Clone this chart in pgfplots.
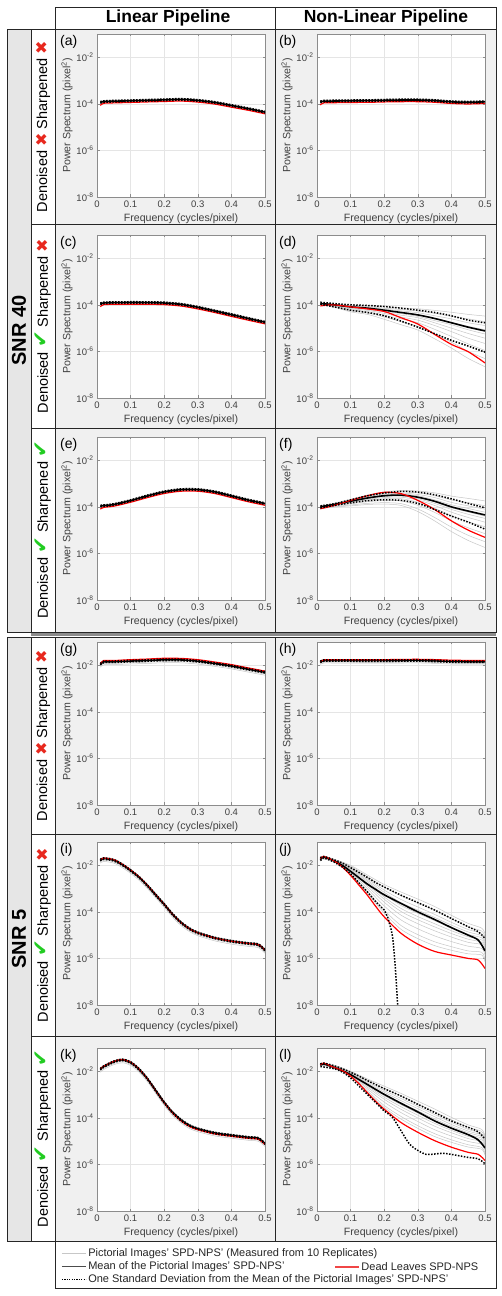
\documentclass[border=0pt]{standalone}
\usepackage{fontspec}
\setmainfont{Liberation Sans}
\newfontfamily\symfont{DejaVu Sans}
\usepackage{pgfplots}
\pgfplotsset{compat=1.18}
\usepackage{pgfplotstable}
\definecolor{cellbg}{HTML}{F0F0F0}
\definecolor{snrbg}{HTML}{E6E6E6}
\definecolor{xred}{HTML}{E8281E}
\definecolor{cgreen}{HTML}{22CC22}
\definecolor{legred}{HTML}{F04646}
\newcommand{\xm}{{\symfont\fontsize{16}{16}\selectfont\color{xred}✖}}
\newcommand{\cm}{{\symfont\fontsize{20}{16}\selectfont\color{cgreen}✔}}

\pgfplotstableread{
x m hi lo r g1 g2
0.01 1.15e-4 1.24e-4 1.07e-4 8.6e-5 1.29e-4 1.04e-4
0.02 1.25e-4 1.35e-4 1.16e-4 1.06e-4 1.4e-4 1.13e-4
0.05 1.30e-4 1.40e-4 1.21e-4 1.1e-4 1.46e-4 1.17e-4
0.1 1.35e-4 1.46e-4 1.26e-4 1.15e-4 1.51e-4 1.22e-4
0.15 1.42e-4 1.53e-4 1.32e-4 1.21e-4 1.59e-4 1.28e-4
0.2 1.48e-4 1.60e-4 1.38e-4 1.26e-4 1.66e-4 1.33e-4
0.25 1.55e-4 1.67e-4 1.44e-4 1.32e-4 1.74e-4 1.4e-4
0.3 1.40e-4 1.51e-4 1.30e-4 1.19e-4 1.57e-4 1.26e-4
0.35 1.15e-4 1.24e-4 1.07e-4 9.8e-5 1.29e-4 1.04e-4
0.4 8.5e-5 9.2e-5 7.9e-5 7.2e-5 9.5e-5 7.7e-5
0.45 6.2e-5 6.7e-5 5.8e-5 5.3e-5 6.9e-5 5.6e-5
0.5 4.4e-5 4.75e-5 4.1e-5 3.75e-5 4.9e-5 4.0e-5
}\tA
\pgfplotstableread{
x m hi lo r g1 g2
0.01 1.2e-4 1.3e-4 1.12e-4 9.0e-5 1.34e-4 1.08e-4
0.02 1.3e-4 1.4e-4 1.21e-4 1.1e-4 1.46e-4 1.17e-4
0.05 1.32e-4 1.43e-4 1.23e-4 1.12e-4 1.48e-4 1.19e-4
0.1 1.35e-4 1.46e-4 1.26e-4 1.15e-4 1.51e-4 1.22e-4
0.15 1.37e-4 1.48e-4 1.27e-4 1.16e-4 1.53e-4 1.23e-4
0.2 1.42e-4 1.53e-4 1.32e-4 1.21e-4 1.59e-4 1.28e-4
0.25 1.46e-4 1.58e-4 1.36e-4 1.24e-4 1.64e-4 1.31e-4
0.3 1.46e-4 1.58e-4 1.36e-4 1.24e-4 1.64e-4 1.31e-4
0.35 1.38e-4 1.49e-4 1.28e-4 1.17e-4 1.55e-4 1.24e-4
0.4 1.22e-4 1.32e-4 1.13e-4 1.04e-4 1.37e-4 1.1e-4
0.45 1.17e-4 1.26e-4 1.09e-4 9.9e-5 1.31e-4 1.05e-4
0.5 1.22e-4 1.32e-4 1.13e-4 1.04e-4 1.37e-4 1.1e-4
}\tB
\pgfplotstableread{
x m hi lo r g1 g2
0.01 1.1e-4 1.19e-4 1.02e-4 8.3e-5 1.23e-4 9.9e-5
0.02 1.2e-4 1.3e-4 1.12e-4 1.02e-4 1.34e-4 1.08e-4
0.05 1.24e-4 1.34e-4 1.15e-4 1.05e-4 1.39e-4 1.12e-4
0.1 1.26e-4 1.36e-4 1.17e-4 1.07e-4 1.41e-4 1.13e-4
0.15 1.25e-4 1.35e-4 1.16e-4 1.06e-4 1.4e-4 1.13e-4
0.2 1.2e-4 1.3e-4 1.12e-4 1.02e-4 1.34e-4 1.08e-4
0.25 1.05e-4 1.13e-4 9.8e-5 8.9e-5 1.18e-4 9.5e-5
0.3 7.9e-5 8.5e-5 7.3e-5 6.7e-5 8.8e-5 7.1e-5
0.35 5.5e-5 5.9e-5 5.1e-5 4.7e-5 6.2e-5 5.0e-5
0.4 3.8e-5 4.1e-5 3.5e-5 3.2e-5 4.3e-5 3.4e-5
0.45 2.6e-5 2.8e-5 2.4e-5 2.2e-5 2.9e-5 2.3e-5
0.5 1.8e-5 1.94e-5 1.67e-5 1.53e-5 2.0e-5 1.6e-5
}\tC
\pgfplotstableread{
x m hi lo r g1 g2
0.01 1.07e-4 1.16e-4 9.9e-5 8.0e-5 1.2e-4 9.6e-5
0.02 1.12e-4 1.21e-4 1.04e-4 9.5e-5 1.25e-4 1.0e-4
0.05 1.26e-4 1.36e-4 1.17e-4 1.07e-4 1.41e-4 1.13e-4
0.1 1.86e-4 2.0e-4 1.73e-4 1.58e-4 2.08e-4 1.67e-4
0.15 2.95e-4 3.2e-4 2.74e-4 2.5e-4 3.3e-4 2.65e-4
0.2 4.4e-4 4.75e-4 4.1e-4 3.75e-4 4.9e-4 4.0e-4
0.25 5.5e-4 5.9e-4 5.1e-4 4.7e-4 6.2e-4 4.95e-4
0.3 5.5e-4 5.9e-4 5.1e-4 4.7e-4 6.2e-4 4.95e-4
0.35 4.4e-4 4.75e-4 4.1e-4 3.75e-4 4.9e-4 4.0e-4
0.4 2.95e-4 3.2e-4 2.74e-4 2.5e-4 3.3e-4 2.65e-4
0.45 1.95e-4 2.1e-4 1.81e-4 1.66e-4 2.2e-4 1.75e-4
0.5 1.38e-4 1.49e-4 1.28e-4 1.17e-4 1.55e-4 1.24e-4
}\tE
\pgfplotstableread{
x m hi lo r g1 g2 g3 g4 g5 g6 g7 g8 g9 g10
0.01 1.15e-4 1.3e-4 1.07e-4 9.0e-5 1.2e-4 1.16e-4 1.14e-4 1.12e-4 1.1e-4 1.08e-4 1.12e-4 1.05e-4 1.1e-4 1.02e-4
0.05 1.0e-4 1.14e-4 8.2e-5 1.0e-4 1.05e-4 1.02e-4 1.0e-4 9.8e-5 9.5e-5 9.3e-5 9.1e-5 8.9e-5 8.5e-5 8.1e-5
0.1 8.2e-5 1.0e-4 5.9e-5 8.2e-5 9.5e-5 8.9e-5 8.5e-5 8.1e-5 7.6e-5 7.2e-5 6.8e-5 6.2e-5 5.6e-5 5.0e-5
0.15 7.2e-5 9.4e-5 4.7e-5 6.7e-5 9.1e-5 8.3e-5 7.8e-5 7.2e-5 6.8e-5 6.3e-5 5.8e-5 5.1e-5 4.5e-5 3.9e-5
0.2 5.9e-5 8.5e-5 3.4e-5 5.2e-5 8.3e-5 7.2e-5 6.6e-5 5.9e-5 5.4e-5 4.9e-5 4.3e-5 3.6e-5 3.0e-5 2.4e-5
0.25 4.7e-5 7.2e-5 2.0e-5 2.8e-5 7.4e-5 6.3e-5 5.5e-5 4.8e-5 4.2e-5 3.6e-5 3.0e-5 2.5e-5 1.9e-5 1.4e-5
0.3 3.7e-5 5.9e-5 1.1e-5 1.5e-5 6.8e-5 5.4e-5 4.6e-5 3.8e-5 3.2e-5 2.8e-5 2.2e-5 1.7e-5 1.2e-5 8.3e-6
0.35 2.6e-5 4.7e-5 5.8e-6 5.4e-6 5.8e-5 4.3e-5 3.4e-5 2.7e-5 2.1e-5 1.7e-5 1.3e-5 8.9e-6 5.6e-6 3.5e-6
0.4 1.7e-5 3.4e-5 3.0e-6 2.0e-6 4.8e-5 3.2e-5 2.5e-5 1.8e-5 1.4e-5 1.0e-5 7.1e-6 4.4e-6 2.5e-6 1.4e-6
0.45 1.1e-5 2.2e-5 1.7e-6 9.7e-7 3.9e-5 2.5e-5 1.7e-5 1.2e-5 8.5e-6 5.9e-6 3.7e-6 2.1e-6 1.0e-6 5.0e-7
0.5 7.6e-6 1.7e-5 9.3e-7 3.2e-7 3.3e-5 1.9e-5 1.3e-5 8.5e-6 5.6e-6 3.7e-6 2.2e-6 1.1e-6 4.9e-7 2.2e-7
}\tD
\pgfplotstableread{
x m hi lo r g1 g2 g3 g4 g5 g6 g7 g8 g9 g10 g11
0.01 1.0e-4 1.1e-4 9.0e-5 8.3e-5 1.1e-4 1.05e-4 1.03e-4 1.02e-4 1.0e-4 9.8e-5 9.5e-5 9.3e-5 8.9e-5 8.5e-5 8.3e-5
0.05 1.26e-4 1.35e-4 1.14e-4 1.14e-4 1.41e-4 1.35e-4 1.32e-4 1.29e-4 1.26e-4 1.23e-4 1.2e-4 1.15e-4 1.1e-4 1.02e-4 9.8e-5
0.1 1.74e-4 2.0e-4 1.48e-4 1.9e-4 2.1e-4 2.0e-4 1.86e-4 1.82e-4 1.7e-4 1.66e-4 1.58e-4 1.48e-4 1.35e-4 1.2e-4 1.1e-4
0.15 2.4e-4 3.0e-4 1.85e-4 3.0e-4 3.2e-4 2.9e-4 2.7e-4 2.5e-4 2.35e-4 2.24e-4 2.1e-4 1.9e-4 1.66e-4 1.41e-4 1.26e-4
0.2 3.0e-4 3.9e-4 2.0e-4 4.2e-4 4.4e-4 3.8e-4 3.5e-4 3.2e-4 2.95e-4 2.75e-4 2.5e-4 2.24e-4 1.86e-4 1.51e-4 1.32e-4
0.25 3.2e-4 4.6e-4 1.9e-4 3.7e-4 5.0e-4 4.4e-4 3.9e-4 3.55e-4 3.1e-4 2.9e-4 2.6e-4 2.24e-4 1.78e-4 1.38e-4 1.15e-4
0.3 2.6e-4 4.3e-4 1.4e-4 1.9e-4 4.8e-4 4.0e-4 3.4e-4 3.0e-4 2.5e-4 2.24e-4 1.95e-4 1.58e-4 1.17e-4 8.1e-5 6.3e-5
0.35 1.74e-4 3.3e-4 7.7e-5 7.7e-5 4.0e-4 3.0e-4 2.5e-4 2.0e-4 1.62e-4 1.41e-4 1.15e-4 8.7e-5 5.8e-5 3.5e-5 2.5e-5
0.4 1.0e-4 2.2e-4 4.0e-5 2.5e-5 2.9e-4 2.0e-4 1.55e-4 1.23e-4 9.1e-5 7.8e-5 5.9e-5 4.2e-5 2.5e-5 1.35e-5 8.7e-6
0.45 6.6e-5 1.4e-4 2.2e-5 1.0e-5 2.3e-4 1.5e-4 1.1e-4 8.5e-5 6.0e-5 4.8e-5 3.5e-5 2.3e-5 1.26e-5 6.0e-6 3.6e-6
0.5 4.5e-5 9.1e-5 1.1e-5 4.9e-6 1.8e-4 1.12e-4 7.9e-5 5.9e-5 4.0e-5 3.2e-5 2.2e-5 1.4e-5 7.1e-6 3.2e-6 1.8e-6
}\tF
\pgfplotstableread{
x m hi lo r g1 g2 g3
0.01 1.1e-2 1.18e-2 1.02e-2 1.17e-2 1.23e-2 9.4e-3 8.3e-3
0.02 1.4e-2 1.5e-2 1.3e-2 1.6e-2 1.57e-2 1.19e-2 1.05e-2
0.05 1.42e-2 1.52e-2 1.32e-2 1.6e-2 1.59e-2 1.21e-2 1.07e-2
0.1 1.52e-2 1.63e-2 1.41e-2 1.74e-2 1.7e-2 1.29e-2 1.14e-2
0.15 1.6e-2 1.71e-2 1.49e-2 1.85e-2 1.79e-2 1.36e-2 1.2e-2
0.2 1.72e-2 1.84e-2 1.6e-2 2.0e-2 1.93e-2 1.46e-2 1.29e-2
0.25 1.7e-2 1.82e-2 1.58e-2 1.97e-2 1.9e-2 1.45e-2 1.28e-2
0.3 1.5e-2 1.6e-2 1.4e-2 1.74e-2 1.68e-2 1.28e-2 1.13e-2
0.35 1.2e-2 1.28e-2 1.12e-2 1.38e-2 1.34e-2 1.02e-2 9.0e-3
0.4 9.3e-3 9.95e-3 8.6e-3 1.07e-2 1.04e-2 7.9e-3 7.0e-3
0.45 6.8e-3 7.3e-3 6.3e-3 7.7e-3 7.6e-3 5.8e-3 5.1e-3
0.5 5.0e-3 5.35e-3 4.65e-3 5.6e-3 5.6e-3 4.25e-3 3.75e-3
}\tG
\pgfplotstableread{
x m hi lo r g1 g2 g3
0.01 1.4e-2 1.5e-2 1.3e-2 1.45e-2 1.57e-2 1.19e-2 1.09e-2
0.02 1.6e-2 1.71e-2 1.49e-2 1.7e-2 1.79e-2 1.36e-2 1.25e-2
0.05 1.6e-2 1.71e-2 1.49e-2 1.72e-2 1.79e-2 1.36e-2 1.25e-2
0.1 1.6e-2 1.71e-2 1.49e-2 1.72e-2 1.79e-2 1.36e-2 1.25e-2
0.15 1.58e-2 1.69e-2 1.47e-2 1.72e-2 1.77e-2 1.34e-2 1.23e-2
0.2 1.58e-2 1.69e-2 1.47e-2 1.74e-2 1.77e-2 1.34e-2 1.23e-2
0.25 1.6e-2 1.71e-2 1.49e-2 1.78e-2 1.79e-2 1.36e-2 1.25e-2
0.3 1.62e-2 1.73e-2 1.51e-2 1.8e-2 1.81e-2 1.38e-2 1.26e-2
0.35 1.55e-2 1.66e-2 1.44e-2 1.75e-2 1.74e-2 1.32e-2 1.21e-2
0.4 1.45e-2 1.55e-2 1.35e-2 1.65e-2 1.62e-2 1.23e-2 1.13e-2
0.45 1.42e-2 1.52e-2 1.32e-2 1.62e-2 1.59e-2 1.21e-2 1.11e-2
0.5 1.42e-2 1.52e-2 1.32e-2 1.62e-2 1.59e-2 1.21e-2 1.11e-2
}\tH
\pgfplotstableread{
x m hi lo r g1 g2 g3
0.01 1.65e-2 1.77e-2 1.53e-2 1.73e-2 1.85e-2 1.4e-2 1.24e-2
0.02 1.95e-2 2.09e-2 1.81e-2 2.05e-2 2.18e-2 1.66e-2 1.46e-2
0.05 1.65e-2 1.77e-2 1.53e-2 1.73e-2 1.85e-2 1.4e-2 1.24e-2
0.075 1.07e-2 1.14e-2 9.95e-3 1.12e-2 1.2e-2 9.1e-3 8.0e-3
0.1 6.0e-3 6.4e-3 5.6e-3 6.3e-3 6.7e-3 5.1e-3 4.5e-3
0.125 3.1e-3 3.3e-3 2.9e-3 3.2e-3 3.5e-3 2.64e-3 2.3e-3
0.15 1.35e-3 1.44e-3 1.26e-3 1.38e-3 1.51e-3 1.15e-3 1.01e-3
0.175 5.3e-4 5.7e-4 4.9e-4 5.4e-4 5.9e-4 4.5e-4 4.0e-4
0.2 2.1e-4 2.25e-4 1.95e-4 2.1e-4 2.35e-4 1.79e-4 1.58e-4
0.225 7.9e-5 8.5e-5 7.3e-5 7.9e-5 8.8e-5 6.7e-5 5.9e-5
0.25 3.5e-5 3.75e-5 3.25e-5 3.5e-5 3.9e-5 3.0e-5 2.6e-5
0.275 1.9e-5 2.03e-5 1.77e-5 1.9e-5 2.1e-5 1.62e-5 1.43e-5
0.3 1.26e-5 1.35e-5 1.17e-5 1.26e-5 1.41e-5 1.07e-5 9.5e-6
0.35 7.6e-6 8.1e-6 7.1e-6 7.6e-6 8.5e-6 6.5e-6 5.7e-6
0.4 5.5e-6 5.9e-6 5.1e-6 5.5e-6 6.2e-6 4.7e-6 4.1e-6
0.45 4.4e-6 4.7e-6 4.1e-6 4.4e-6 4.9e-6 3.75e-6 3.3e-6
0.48 3.9e-6 4.2e-6 3.6e-6 3.9e-6 4.4e-6 3.3e-6 2.9e-6
0.5 2.24e-6 2.4e-6 2.1e-6 2.24e-6 2.5e-6 1.9e-6 1.68e-6
}\tI
\pgfplotstableread{
x m hi lo r g1 g2 g3
0.01 1.23e-2 1.32e-2 1.14e-2 1.28e-2 1.38e-2 1.05e-2 9.2e-3
0.02 1.6e-2 1.71e-2 1.49e-2 1.66e-2 1.79e-2 1.36e-2 1.2e-2
0.05 2.57e-2 2.75e-2 2.39e-2 2.65e-2 2.88e-2 2.18e-2 1.93e-2
0.075 3.1e-2 3.3e-2 2.9e-2 3.2e-2 3.5e-2 2.64e-2 2.33e-2
0.1 2.4e-2 2.57e-2 2.23e-2 2.45e-2 2.7e-2 2.04e-2 1.8e-2
0.125 1.23e-2 1.32e-2 1.14e-2 1.25e-2 1.38e-2 1.05e-2 9.2e-3
0.15 4.8e-3 5.1e-3 4.5e-3 4.8e-3 5.4e-3 4.1e-3 3.6e-3
0.175 1.48e-3 1.58e-3 1.38e-3 1.45e-3 1.66e-3 1.26e-3 1.11e-3
0.2 4.6e-4 4.9e-4 4.3e-4 4.5e-4 5.2e-4 3.9e-4 3.45e-4
0.225 1.7e-4 1.82e-4 1.58e-4 1.62e-4 1.9e-4 1.45e-4 1.28e-4
0.25 8.1e-5 8.7e-5 7.5e-5 7.5e-5 9.1e-5 6.9e-5 6.1e-5
0.275 4.7e-5 5.0e-5 4.4e-5 4.3e-5 5.3e-5 4.0e-5 3.5e-5
0.3 3.4e-5 3.6e-5 3.2e-5 3.1e-5 3.8e-5 2.9e-5 2.55e-5
0.35 2.24e-5 2.4e-5 2.08e-5 2.05e-5 2.5e-5 1.9e-5 1.68e-5
0.4 1.78e-5 1.9e-5 1.66e-5 1.63e-5 2.0e-5 1.51e-5 1.34e-5
0.45 1.45e-5 1.55e-5 1.35e-5 1.33e-5 1.62e-5 1.23e-5 1.09e-5
0.48 1.32e-5 1.41e-5 1.23e-5 1.21e-5 1.48e-5 1.12e-5 9.9e-6
0.5 7.8e-6 8.3e-6 7.3e-6 7.2e-6 8.7e-6 6.6e-6 5.9e-6
}\tK
\pgfplotstableread{
x m hi r
0.01 1.75e-2 2.1e-2 1.95e-2
0.02 2.3e-2 2.4e-2 2.4e-2
0.05 1.55e-2 1.75e-2 1.55e-2
0.075 1.0e-2 1.26e-2 8.5e-3
0.1 5.5e-3 7.9e-3 3.7e-3
0.125 2.9e-3 4.9e-3 1.4e-3
0.15 1.55e-3 3.0e-3 5.2e-4
0.175 9.1e-4 1.8e-3 1.7e-4
0.2 5.4e-4 1.17e-3 6.1e-5
0.25 2.3e-4 5.2e-4 1.2e-5
0.3 1.0e-4 2.5e-4 4.1e-6
0.35 4.7e-5 1.2e-4 2.0e-6
0.4 2.1e-5 5.2e-5 1.4e-6
0.45 1.0e-5 2.3e-5 1.0e-6
0.48 6.1e-6 1.4e-5 8.5e-7
0.5 2.1e-6 7.2e-6 3.7e-7
}\tJ
\pgfplotstableread{
x y
0.01 1.6e-2
0.02 2.1e-2
0.05 1.4e-2
0.075 8.5e-3
0.1 4.4e-3
0.125 1.75e-3
0.15 7.2e-4
0.175 2.7e-4
0.2 1.2e-4
0.21 6.1e-5
0.22 1.9e-5
0.225 8.5e-6
0.23 1.6e-6
0.235 1.6e-7
0.24 1.0e-8
0.242 1.0e-9
}\tJlo
\pgfplotstableread{
x g1 g2 g3 g4 g5 g6 g7 g8 g9 g10 g11
0.01 2.1e-2 2.07e-2 2.05e-2 2.04e-2 2.02e-2 2.0e-2 1.99e-2 1.97e-2 1.95e-2 1.92e-2 1.9e-2
0.05 1.78e-2 1.75e-2 1.72e-2 1.7e-2 1.68e-2 1.66e-2 1.64e-2 1.61e-2 1.57e-2 1.54e-2 1.51e-2
0.1 1.0e-2 9.2e-3 8.4e-3 7.8e-3 7.3e-3 6.8e-3 6.3e-3 5.8e-3 5.2e-3 4.5e-3 4.2e-3
0.15 3.8e-3 3.2e-3 2.65e-3 2.3e-3 2.0e-3 1.73e-3 1.5e-3 1.25e-3 9.9e-4 7.5e-4 6.3e-4
0.2 1.5e-3 1.14e-3 8.6e-4 6.9e-4 5.5e-4 4.35e-4 3.5e-4 2.6e-4 1.8e-4 1.18e-4 8.9e-5
0.25 7.1e-4 4.9e-4 3.4e-4 2.5e-4 1.88e-4 1.4e-4 1.04e-4 7.2e-5 4.5e-5 2.6e-5 1.78e-5
0.3 3.55e-4 2.4e-4 1.62e-4 1.19e-4 8.7e-5 6.3e-5 4.6e-5 3.1e-5 1.88e-5 1.05e-5 7.1e-6
0.35 1.7e-4 1.15e-4 7.8e-5 5.75e-5 4.2e-5 3.1e-5 2.27e-5 1.54e-5 9.3e-6 5.2e-6 3.55e-6
0.4 7.1e-5 5.0e-5 3.55e-5 2.7e-5 2.04e-5 1.55e-5 1.17e-5 8.3e-6 5.3e-6 3.2e-6 2.24e-6
0.45 3.2e-5 2.3e-5 1.74e-5 1.37e-5 1.08e-5 8.5e-6 6.7e-6 4.9e-6 3.35e-6 2.1e-6 1.58e-6
0.49 2.0e-5 1.5e-5 1.17e-5 9.5e-6 7.7e-6 6.2e-6 5.0e-6 3.9e-6 2.7e-6 1.84e-6 1.41e-6
0.5 1.12e-5 8.5e-6 6.5e-6 5.2e-6 4.15e-6 3.3e-6 2.7e-6 2.0e-6 1.4e-6 9.3e-7 7.1e-7
}\tJg
\pgfplotstableread{
x m hi r
0.01 1.8e-2 2.05e-2 1.9e-2
0.02 2.05e-2 2.25e-2 2.25e-2
0.05 1.48e-2 1.74e-2 1.48e-2
0.075 1.07e-2 1.3e-2 1.07e-2
0.1 7.2e-3 9.1e-3 6.2e-3
0.125 4.4e-3 6.2e-3 2.9e-3
0.15 2.7e-3 4.0e-3 1.2e-3
0.175 1.65e-3 2.7e-3 5.0e-4
0.2 1.02e-3 1.8e-3 2.35e-4
0.25 4.2e-4 8.7e-4 6.3e-5
0.3 1.8e-4 3.8e-4 2.4e-5
0.35 7.4e-5 1.7e-4 1.05e-5
0.4 3.6e-5 7.4e-5 5.5e-6
0.45 1.9e-5 3.9e-5 3.3e-6
0.48 1.12e-5 2.5e-5 2.7e-6
0.5 5.1e-6 1.23e-5 1.48e-6
}\tL
\pgfplotstableread{
x y
0.01 1.6e-2
0.05 1.3e-2
0.075 9.4e-3
0.1 5.2e-3
0.125 2.3e-3
0.15 1.02e-3
0.175 4.5e-4
0.2 2.0e-4
0.225 1.03e-4
0.25 2.8e-5
0.275 7.6e-6
0.3 4.0e-6
0.325 2.7e-6
0.35 2.8e-6
0.375 3.0e-6
0.4 2.7e-6
0.45 2.0e-6
0.48 1.74e-6
0.5 1.07e-6
}\tLlo
\pgfplotstableread{
x g1 g2 g3 g4 g5 g6 g7 g8 g9 g10 g11
0.01 2.1e-2 2.06e-2 2.03e-2 2.01e-2 1.99e-2 1.97e-2 1.95e-2 1.92e-2 1.88e-2 1.85e-2 1.82e-2
0.05 1.82e-2 1.77e-2 1.73e-2 1.69e-2 1.66e-2 1.63e-2 1.6e-2 1.56e-2 1.5e-2 1.45e-2 1.41e-2
0.1 1.0e-2 9.5e-3 9.0e-3 8.7e-3 8.3e-3 8.0e-3 7.7e-3 7.3e-3 6.8e-3 6.3e-3 6.0e-3
0.15 4.7e-3 4.1e-3 3.6e-3 3.2e-3 2.9e-3 2.6e-3 2.37e-3 2.07e-3 1.75e-3 1.44e-3 1.26e-3
0.2 2.3e-3 1.86e-3 1.5e-3 1.27e-3 1.08e-3 9.1e-4 7.7e-4 6.3e-4 4.75e-4 3.4e-4 2.8e-4
0.25 1.12e-3 8.7e-4 6.8e-4 5.5e-4 4.5e-4 3.7e-4 3.0e-4 2.33e-4 1.68e-4 1.15e-4 8.9e-5
0.3 5.2e-4 4.0e-4 3.06e-4 2.47e-4 2.0e-4 1.6e-4 1.3e-4 9.9e-5 7.0e-5 4.6e-5 3.55e-5
0.35 2.4e-4 1.83e-4 1.39e-4 1.12e-4 9.0e-5 7.3e-5 5.8e-5 4.4e-5 3.1e-5 2.1e-5 1.58e-5
0.4 1.05e-4 8.2e-5 6.4e-5 5.2e-5 4.3e-5 3.5e-5 2.9e-5 2.3e-5 1.65e-5 1.14e-5 8.9e-6
0.45 5.0e-5 4.0e-5 3.2e-5 2.7e-5 2.3e-5 1.9e-5 1.6e-5 1.29e-5 9.7e-6 7.0e-6 5.6e-6
0.49 3.2e-5 2.6e-5 2.1e-5 1.83e-5 1.56e-5 1.34e-5 1.14e-5 9.4e-6 7.3e-6 5.4e-6 4.5e-6
0.5 1.58e-5 1.32e-5 1.1e-5 9.5e-6 8.2e-6 7.0e-6 6.1e-6 5.1e-6 4.0e-6 3.0e-6 2.5e-6
}\tLg

\pgfplotsset{
  spdpanel/.style={
    scale only axis, width=168pt, height=163pt, anchor=north west,
    xmin=0, xmax=0.5, ymin=1e-8, ymax=1e-1,
    xtick={0,0.1,0.2,0.3,0.4,0.5}, xticklabels={0,0.1,0.2,0.3,0.4,0.5},
    ytick={1e-8,1e-6,1e-4,1e-2},
    yticklabels={10\textsuperscript{-8},10\textsuperscript{-6},10\textsuperscript{-4},10\textsuperscript{-2}},
    minor tick style={draw=none},
    grid=major, major grid style={black!10, line width=0.4pt},
    axis line style={black!45, line width=0.5pt}, tick style={black!45, line width=0.5pt},
    tick align=inside, major tick length=2.5pt,
    tick label style={font=\fontsize{9.5}{11}\selectfont, text=black!75},
    axis background/.style={fill=white},
    xlabel={Frequency (cycles/pixel)},
    ylabel={Power Spectrum (pixel\textsuperscript{2})},
    every axis x label/.style={at={([yshift=-22pt]axis description cs:0.5,0)}, anchor=center, font=\fontsize{10.6}{12}\selectfont, text=black!75},
    every axis y label/.style={at={([xshift=-30pt]axis description cs:0,0.5)}, anchor=center, rotate=90, font=\fontsize{10.6}{12}\selectfont, text=black!75},
  },
  spdgray/.style={black!22, line width=0.5pt, smooth},
  spdmean/.style={black, line width=1.6pt, smooth},
  spdred/.style={red, line width=1.2pt, smooth},
  spdstd/.style={black, line width=1.5pt, dash pattern=on 1.5pt off 1.5pt, smooth},
  spdstdsharp/.style={black, line width=1.5pt, dash pattern=on 1.5pt off 1.5pt},
  spdleg/.style={scale only axis, width=441pt, height=47pt, at={(55pt,8pt)}, anchor=south west,
    hide axis, xmin=0, xmax=1, ymin=0, ymax=1,
    legend cell align=left,
    legend image code/.code={\draw[##1] (0pt,0pt) -- (24pt,0pt);},
    legend style={draw=none, fill=none, font=\fontsize{11}{13}\selectfont, row sep=0.5pt, inner sep=0pt, nodes={inner sep=1.6pt, text=black!85}}},
}

\begin{document}
\begin{tikzpicture}[x=1pt,y=1pt]
\useasboundingbox (0,0) rectangle (502,1296);
\fill[white] (0,0) rectangle (502,1296);
\fill[cellbg] (55,664) rectangle (496,1267);
\fill[cellbg] (55,55) rectangle (496,659);
\fill[snrbg] (7,664) rectangle (31,1267);
\fill[snrbg] (7,55) rectangle (31,659);

% (a)
\begin{axis}[spdpanel, ymode=log, at={(97pt,1262pt)}]
\pgfplotsinvokeforeach{1,2}{\addplot[spdgray] table[x=x,y=g#1]{\tA};}
\addplot[spdmean] table[x=x,y=m]{\tA};
\addplot[spdred] table[x=x,y=r]{\tA};
\addplot[spdstd] table[x=x,y=hi]{\tA};
\addplot[spdstd] table[x=x,y=lo]{\tA};
\end{axis}
% (b)
\begin{axis}[spdpanel, ymode=log, at={(317pt,1262pt)}]
\pgfplotsinvokeforeach{1,2}{\addplot[spdgray] table[x=x,y=g#1]{\tB};}
\addplot[spdmean] table[x=x,y=m]{\tB};
\addplot[spdred] table[x=x,y=r]{\tB};
\addplot[spdstd] table[x=x,y=hi]{\tB};
\addplot[spdstd] table[x=x,y=lo]{\tB};
\end{axis}
% (c)
\begin{axis}[spdpanel, ymode=log, at={(97pt,1061pt)}]
\pgfplotsinvokeforeach{1,2}{\addplot[spdgray] table[x=x,y=g#1]{\tC};}
\addplot[spdmean] table[x=x,y=m]{\tC};
\addplot[spdred] table[x=x,y=r]{\tC};
\addplot[spdstd] table[x=x,y=hi]{\tC};
\addplot[spdstd] table[x=x,y=lo]{\tC};
\end{axis}
% (d)
\begin{axis}[spdpanel, ymode=log, at={(317pt,1061pt)}]
\pgfplotsinvokeforeach{1,...,10}{\addplot[spdgray] table[x=x,y=g#1]{\tD};}
\addplot[spdmean] table[x=x,y=m]{\tD};
\addplot[spdred] table[x=x,y=r]{\tD};
\addplot[spdstd] table[x=x,y=hi]{\tD};
\addplot[spdstd] table[x=x,y=lo]{\tD};
\end{axis}
% (e)
\begin{axis}[spdpanel, ymode=log, at={(97pt,859pt)}]
\pgfplotsinvokeforeach{1,2}{\addplot[spdgray] table[x=x,y=g#1]{\tE};}
\addplot[spdmean] table[x=x,y=m]{\tE};
\addplot[spdred] table[x=x,y=r]{\tE};
\addplot[spdstd] table[x=x,y=hi]{\tE};
\addplot[spdstd] table[x=x,y=lo]{\tE};
\end{axis}
% (f)
\begin{axis}[spdpanel, ymode=log, at={(317pt,859pt)}]
\pgfplotsinvokeforeach{1,...,11}{\addplot[spdgray] table[x=x,y=g#1]{\tF};}
\addplot[spdmean] table[x=x,y=m]{\tF};
\addplot[spdred] table[x=x,y=r]{\tF};
\addplot[spdstd] table[x=x,y=hi]{\tF};
\addplot[spdstd] table[x=x,y=lo]{\tF};
\end{axis}
% (g)
\begin{axis}[spdpanel, ymode=log, at={(97pt,654pt)}]
\pgfplotsinvokeforeach{1,2,3}{\addplot[spdgray] table[x=x,y=g#1]{\tG};}
\addplot[spdmean] table[x=x,y=m]{\tG};
\addplot[spdred] table[x=x,y=r]{\tG};
\addplot[spdstd] table[x=x,y=hi]{\tG};
\addplot[spdstd] table[x=x,y=lo]{\tG};
\end{axis}
% (h)
\begin{axis}[spdpanel, ymode=log, at={(317pt,654pt)}]
\pgfplotsinvokeforeach{1,2,3}{\addplot[spdgray] table[x=x,y=g#1]{\tH};}
\addplot[spdmean] table[x=x,y=m]{\tH};
\addplot[spdred] table[x=x,y=r]{\tH};
\addplot[spdstd] table[x=x,y=hi]{\tH};
\addplot[spdstd] table[x=x,y=lo]{\tH};
\end{axis}
% (i)
\begin{axis}[spdpanel, ymode=log, at={(97pt,454pt)}]
\pgfplotsinvokeforeach{1,2,3}{\addplot[spdgray] table[x=x,y=g#1]{\tI};}
\addplot[spdmean] table[x=x,y=m]{\tI};
\addplot[spdred] table[x=x,y=r]{\tI};
\addplot[spdstd] table[x=x,y=hi]{\tI};
\addplot[spdstd] table[x=x,y=lo]{\tI};
\end{axis}
% (j)
\begin{axis}[spdpanel, ymode=log, at={(317pt,454pt)}]
\pgfplotsinvokeforeach{1,...,11}{\addplot[spdgray] table[x=x,y=g#1]{\tJg};}
\addplot[spdmean] table[x=x,y=m]{\tJ};
\addplot[spdred] table[x=x,y=r]{\tJ};
\addplot[spdstd] table[x=x,y=hi]{\tJ};
\addplot[spdstdsharp] table[x=x,y=y]{\tJlo};
\end{axis}
% (k)
\begin{axis}[spdpanel, ymode=log, at={(97pt,248pt)}]
\pgfplotsinvokeforeach{1,2,3}{\addplot[spdgray] table[x=x,y=g#1]{\tK};}
\addplot[spdmean] table[x=x,y=m]{\tK};
\addplot[spdred] table[x=x,y=r]{\tK};
\addplot[spdstd] table[x=x,y=hi]{\tK};
\addplot[spdstd] table[x=x,y=lo]{\tK};
\end{axis}
% (l)
\begin{axis}[spdpanel, ymode=log, at={(317pt,248pt)}]
\pgfplotsinvokeforeach{1,...,11}{\addplot[spdgray] table[x=x,y=g#1]{\tLg};}
\addplot[spdmean] table[x=x,y=m]{\tL};
\addplot[spdred] table[x=x,y=r]{\tL};
\addplot[spdstd] table[x=x,y=hi]{\tL};
\addplot[spdstd] table[x=x,y=y]{\tLlo};
\end{axis}

% legend
\fill[white] (55,8) rectangle (496,55);
\begin{axis}[spdleg, legend style={at={(axis description cs:0.0136,0.88)}, anchor=north west}]
\addlegendimage{draw=black!22, line width=1pt}
\addlegendentry{Pictorial Images' SPD-NPS' (Measured from 10 Replicates)}
\addlegendimage{draw=black!70, line width=1.5pt}
\addlegendentry{Mean of the Pictorial Images' SPD-NPS'}
\addlegendimage{draw=black, line width=1.2pt, dash pattern=on 1.2pt off 1.2pt}
\addlegendentry{One Standard Deviation from the Mean of the Pictorial Images' SPD-NPS'}
\end{axis}
\begin{axis}[spdleg, legend style={at={(axis description cs:0.633,0.585)}, anchor=north west}]
\addlegendimage{draw=legred, line width=1.5pt}
\addlegendentry{Dead Leaves SPD-NPS}
\end{axis}

% frames
\begin{scope}[draw=black!85, line width=0.9pt]
\fill[white] (55,1267) rectangle (496,1289);
\draw (55,1267) rectangle (496,1289);
\draw (275,1267) -- (275,1289);
\draw (7,664) rectangle (496,1267);
\draw (7,55) rectangle (496,659);
\foreach \xx in {31,55,275} {\draw (\xx,664) -- (\xx,1267); \draw (\xx,55) -- (\xx,659);}
\foreach \yy in {1072,868,462,260} {\draw (31,\yy) -- (496,\yy);}
\draw (55,8) rectangle (496,55);
\end{scope}
\fill[black!45] (31,659.6) rectangle (496,663.2);

% texts
\node[font=\fontsize{17.5}{20}\selectfont\bfseries] at (168,1278) {Linear Pipeline};
\node[font=\fontsize{17.5}{20}\selectfont\bfseries] at (386,1278) {Non-Linear Pipeline};
\node[rotate=90, font=\fontsize{20}{22}\selectfont\bfseries] at (19,965.5) {SNR 40};
\node[rotate=90, font=\fontsize{20}{22}\selectfont\bfseries] at (19,357) {SNR 5};
\begin{scope}[every node/.style={rotate=90, font=\fontsize{14.5}{16}\selectfont}]
\node at (43,1169.5) {Denoised \xm\ Sharpened \xm};
\node at (43,970) {Denoised \cm\ Sharpened \xm};
\node at (43,766) {Denoised \cm\ Sharpened \cm};
\node at (43,560.5) {Denoised \xm\ Sharpened \xm};
\node at (43,361) {Denoised \cm\ Sharpened \xm};
\node at (43,157.5) {Denoised \cm\ Sharpened \cm};
\end{scope}
\begin{scope}[every node/.style={anchor=north west, inner sep=0pt, font=\fontsize{14}{16}\selectfont}]
\node at (60,1261) {(a)}; \node at (279,1261) {(b)};
\node at (60,1060) {(c)}; \node at (279,1060) {(d)};
\node at (60,858) {(e)};  \node at (279,858) {(f)};
\node at (60,653) {(g)};  \node at (279,653) {(h)};
\node at (60,453) {(i)};  \node at (279,453) {(j)};
\node at (60,247) {(k)};  \node at (279,247) {(l)};
\end{scope}
\end{tikzpicture}
\end{document}
